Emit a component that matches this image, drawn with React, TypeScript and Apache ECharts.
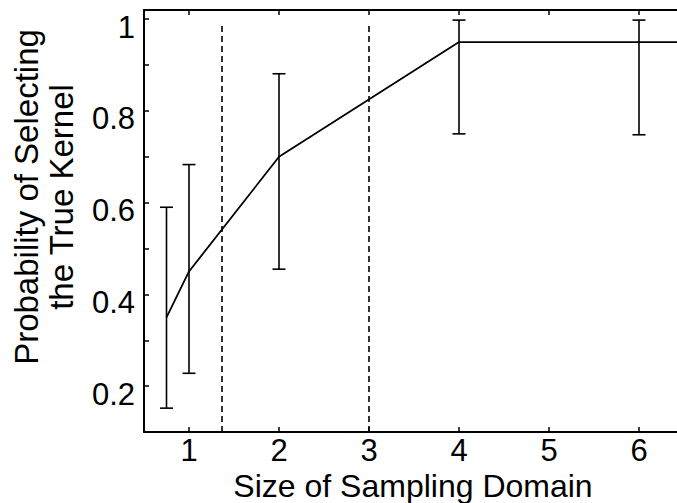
import React, { useEffect, useRef } from 'react';
import * as echarts from 'echarts';

// Size of sampling domain and mean probability of selecting the true kernel
const xValues = [0.75, 1, 2, 4, 6, 8];
const meanValues = [0.35, 0.45, 0.7, 0.95, 0.95, 0.95];
// Error bars
const errX = [0.75, 1, 2, 4, 6];
const errLow = [0.152, 0.228, 0.455, 0.75, 0.748];
const errHigh = [0.59, 0.683, 0.881, 0.998, 0.998];
// Vertical dashed reference lines
const dashedX = [1.36, 3.0];
const dashedBottom = 0.1;
const dashedTop = 0.99;

const xAxisTitle = 'Size of Sampling Domain';
const yAxisTitle = 'Probability of Selecting\nthe True Kernel';

const FONT = '"Liberation Sans", Arial, Helvetica, sans-serif';

export default function App() {
  const ref = useRef<HTMLDivElement>(null);
  useEffect(() => {
    if (!ref.current) return;
    const chart = echarts.init(ref.current, undefined, { renderer: 'svg' });
    const lineData = xValues.map((x, i) => [x, meanValues[i]]);
    const errData = errX.map((x, i) => [x, errLow[i], errHigh[i]]);
    const markLines = dashedX.map((x) => [
      { coord: [x, dashedBottom] },
      { coord: [x, dashedTop] },
    ]);
    const axisLineStyle = { color: '#000', width: 2 };
    const tickStyle = { show: true, inside: true, length: 5, lineStyle: { color: '#000', width: 1.5 } };
    chart.setOption({
      animation: false,
      backgroundColor: '#fff',
      grid: { left: 144, right: 0, top: 10, bottom: 71, containLabel: false },
      xAxis: [
        {
          type: 'value',
          min: 0.5,
          max: 6.5,
          splitNumber: 6,
          position: 'bottom',
          axisLine: { show: true, onZero: false, lineStyle: axisLineStyle },
          axisTick: tickStyle,
          splitLine: { show: false },
          axisLabel: {
            color: '#000',
            fontFamily: FONT,
            fontSize: 31,
            margin: 3,
            showMinLabel: false,
            showMaxLabel: false,
            formatter: (v: number) => (Math.abs(v - Math.round(v)) < 1e-6 ? String(Math.round(v)) : ''),
          },
        },
        {
          type: 'value',
          min: 0.5,
          max: 6.5,
          splitNumber: 6,
          position: 'top',
          axisLine: { show: true, onZero: false, lineStyle: axisLineStyle },
          axisTick: tickStyle,
          splitLine: { show: false },
          axisLabel: { show: false },
        },
      ],
      yAxis: {
        type: 'value',
        min: 0.1,
        max: 1.02,
        interval: 0.1,
        axisLine: { show: true, onZero: false, lineStyle: axisLineStyle },
        axisTick: tickStyle,
        splitLine: { show: false },
        axisLabel: {
          color: '#000',
          fontFamily: FONT,
          fontSize: 31,
          margin: 9,
          verticalAlign: 'top',
          lineHeight: 16,
          formatter: (v: number) => {
            const k = Math.round(v * 10);
            if (Math.abs(v * 10 - k) > 1e-6 || k % 2 !== 0) return '';
            return k === 10 ? '1' : v.toFixed(1);
          },
        },
      },
      graphic: [
        {
          type: 'text',
          x: 44,
          y: 197,
          rotation: Math.PI / 2,
          style: {
            text: yAxisTitle,
            fill: '#000',
            font: `33px ${FONT}`,
            lineHeight: 35,
            textAlign: 'center',
            textVerticalAlign: 'middle',
          },
        },
        {
          type: 'text',
          x: 413,
          y: 486,
          style: {
            text: xAxisTitle,
            fill: '#000',
            font: `32px ${FONT}`,
            textAlign: 'center',
            textVerticalAlign: 'middle',
          },
        },
      ],
      series: [
        {
          type: 'line',
          data: lineData,
          symbol: 'none',
          lineStyle: { color: '#000', width: 1.8 },
          clip: true,
          markLine: {
            silent: true,
            symbol: ['none', 'none'],
            label: { show: false },
            lineStyle: { color: '#000', width: 1.6, type: [6, 4] },
            data: markLines,
          },
        },
        {
          type: 'custom',
          data: errData,
          renderItem: (params: any, api: any) => {
            const x = api.value(0);
            const lo = api.coord([x, api.value(1)]);
            const hi = api.coord([x, api.value(2)]);
            const hw = 6.5;
            const style = { stroke: '#000', lineWidth: 1.6 };
            return {
              type: 'group',
              children: [
                { type: 'line', shape: { x1: lo[0], y1: lo[1], x2: hi[0], y2: hi[1] }, style },
                { type: 'line', shape: { x1: hi[0] - hw, y1: hi[1], x2: hi[0] + hw, y2: hi[1] }, style },
                { type: 'line', shape: { x1: lo[0] - hw, y1: lo[1], x2: lo[0] + hw, y2: lo[1] }, style },
              ],
            };
          },
        },
      ],
    });
    return () => chart.dispose();
  }, []);
  return (
    <div style={{ position: 'absolute', left: 0, top: 0, width: 677, height: 503, overflow: 'hidden' }}>
      <div ref={ref} style={{ width: 684, height: 503 }} />
    </div>
  );
}
